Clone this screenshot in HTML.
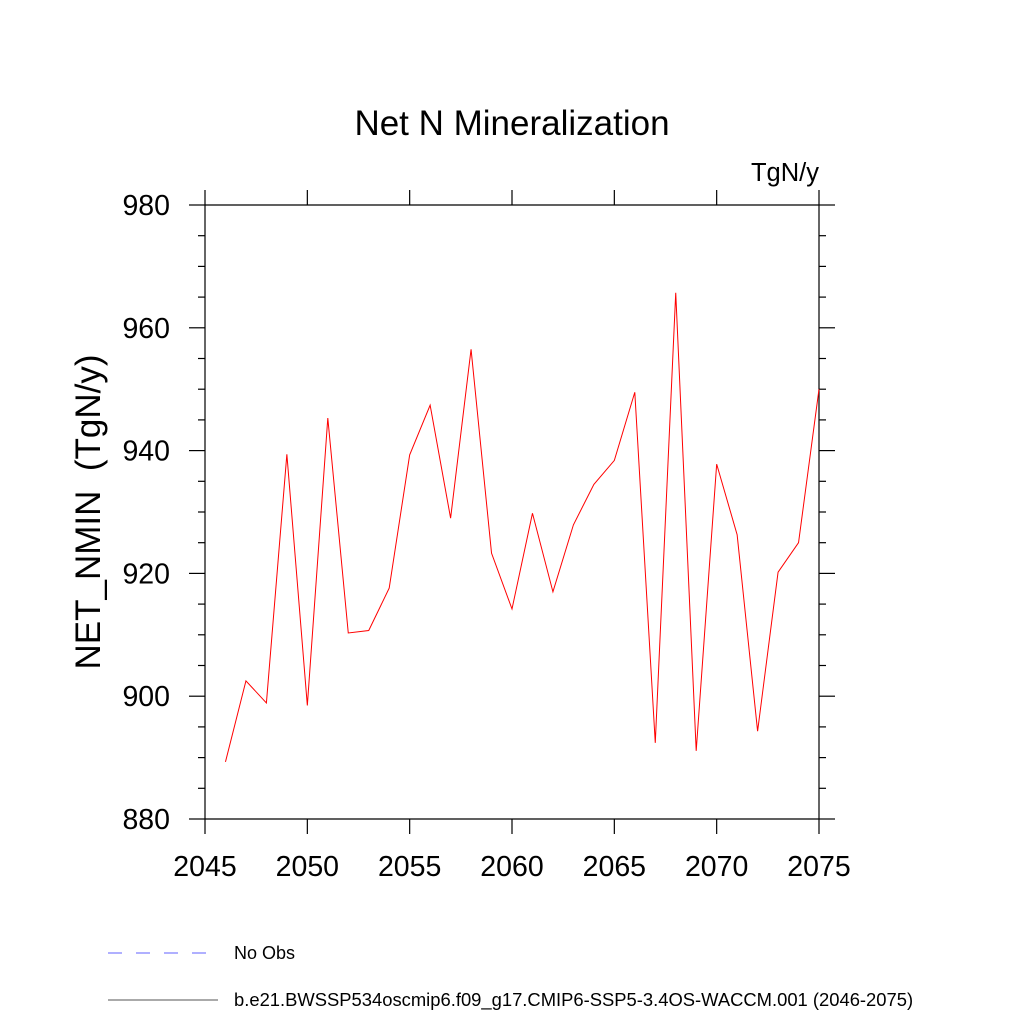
<!DOCTYPE html>
<html><head><meta charset="utf-8"><style>
body{margin:0;background:#fff}
svg text{font-family:"Liberation Sans",sans-serif;fill:#000;white-space:pre}
</style></head><body>
<svg id="c" width="1024" height="1024" viewBox="0 0 1024 1024">
<text x="512" y="135" font-size="35" text-anchor="middle">Net N Mineralization</text>
<text x="819" y="181" font-size="25.5" text-anchor="end">TgN/y</text>
<text transform="translate(100,512) rotate(-90)" font-size="35" text-anchor="middle" xml:space="preserve">NET_NMIN  (TgN/y)</text>
<g id="axes" stroke="#000" stroke-width="1.2" fill="none"></g>
<g id="labels"></g>
<polyline id="series" fill="none" stroke="#ff0000" stroke-width="1"/>
<line x1="108" y1="953" x2="218" y2="953" stroke="#6060ff" stroke-width="1" stroke-dasharray="14,14"/>
<text x="234" y="959" font-size="18">No Obs</text>
<line x1="108" y1="1000" x2="218" y2="1000" stroke="#555" stroke-width="1"/>
<text x="234" y="1006" font-size="18.4">b.e21.BWSSP534oscmip6.f09_g17.CMIP6-SSP5-3.4OS-WACCM.001 (2046-2075)</text>
</svg>
<script>
const years=[2046,2047,2048,2049,2050,2051,2052,2053,2054,2055,2056,2057,2058,2059,2060,2061,2062,2063,2064,2065,2066,2067,2068,2069,2070,2071,2072,2073,2074,2075];
const values=[889.3,902.5,898.9,939.4,898.5,945.3,910.3,910.7,917.6,939.3,947.4,929.0,956.5,923.3,914.2,929.8,917.0,927.9,934.5,938.4,949.5,892.4,965.7,891.1,937.8,926.3,894.3,920.2,925.0,950.0];
const xTicks=[2045,2050,2055,2060,2065,2070,2075];
const yTicks=[880,900,920,940,960,980];
const X0=205,X1=819,Y0=819,Y1=205;
const xs=v=>X0+(v-2045)/30*(X1-X0);
const ys=v=>Y0-(v-880)/100*(Y0-Y1);
const NS='http://www.w3.org/2000/svg';
const ax=document.getElementById('axes'),lb=document.getElementById('labels');
function ln(x1,y1,x2,y2,name){const l=document.createElementNS(NS,'line');l.setAttribute('x1',x1);l.setAttribute('y1',y1);l.setAttribute('x2',x2);l.setAttribute('y2',y2);


ax.appendChild(l);}
function tx(x,y,s,anchor,name){const t=document.createElementNS(NS,'text');t.setAttribute('x',x);t.setAttribute('y',y);t.setAttribute('font-size','28.5');t.setAttribute('text-anchor',anchor);t.textContent=s;


lb.appendChild(t);}
ln(X0,Y1,X1,Y1,'plot-frame-top');ln(X0,Y0,X1,Y0,'plot-frame-bottom');ln(X0,Y1,X0,Y0,'plot-frame-left');ln(X1,Y1,X1,Y0,'plot-frame-right');
for(let v=880;v<=980;v+=5){const y=ys(v);const major=v%20===0;const L=major?16:7;
ln(X0-L,y,X0,y,'y-tick');ln(X1,y,X1+L,y,'y-tick-right');}
yTicks.forEach(v=>tx(170,ys(v)+10,String(v),'end','y-tick-label'));
xTicks.forEach(v=>{const x=xs(v);ln(x,Y0,x,Y0+15,'x-tick');ln(x,Y1-15,x,Y1,'x-tick-top');tx(x,876,String(v),'middle','x-tick-label');});
document.getElementById('series').setAttribute('points',years.map((y,i)=>xs(y)+','+ys(values[i])).join(' '));
</script>
</body></html>
